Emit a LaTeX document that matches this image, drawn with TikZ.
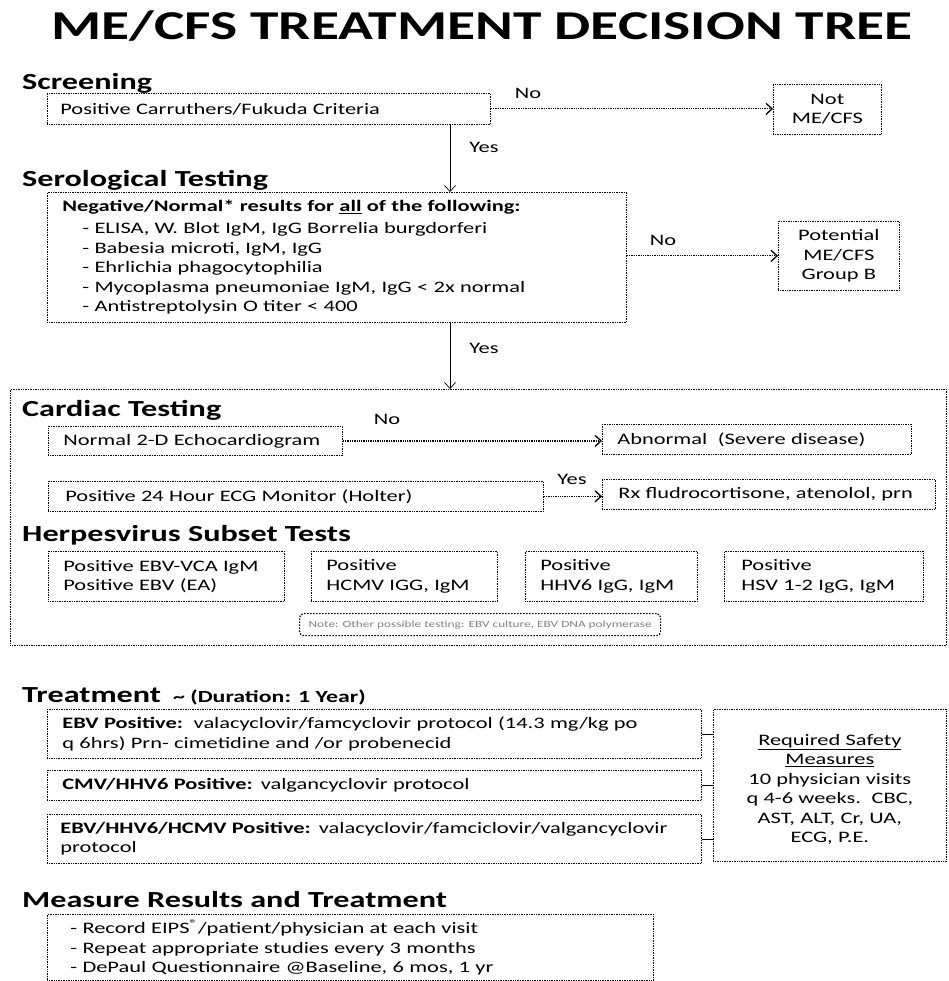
\documentclass[tikz,border=0pt]{standalone}
\usepackage{fontspec}
\setmainfont{Carlito}[FakeStretch=1.4]
\usetikzlibrary{arrows.meta,positioning}

\tikzset{
  box/.style={draw, densely dotted, line width=0.7pt, anchor=north west, inner xsep=15pt, inner ysep=0pt, align=left, font=\fontsize{16}{19.4}\selectfont},
  cbox/.style={box, align=center, inner xsep=4pt},
  notebox/.style={draw, dash pattern=on 1.5pt off 1.5pt, line width=1.2pt, rounded corners=4pt, anchor=north west, inner sep=0pt, text=gray, font=\fontsize{9.5}{11}\selectfont},
  head/.style={anchor=west, inner sep=0pt, font=\bfseries\fontsize{23}{26}\selectfont},
  lbl/.style={inner sep=1pt, font=\fontsize{16}{18}\selectfont},
  yes/.style={-{Straight Barb[length=6pt,width=11pt]}, line width=0.7pt},
  no/.style={-{Straight Barb[length=6pt,width=11pt]}, densely dotted, line width=1.3pt},
}

\begin{document}
\begin{tikzpicture}[x=1pt,y=-1pt]
\useasboundingbox (0,0) rectangle (948,981);

\node[inner sep=0pt, font=\bfseries\fontsize{41}{46}\selectfont] (title) at (482,26) {ME/CFS TREATMENT DECISION TREE};

% screening
\node[head] (hscr) at (22,83) {Screening};
\node[box, inner xsep=13pt, text width=417pt, minimum height=31pt] (scr) at (47,93) {Positive Carruthers/Fukuda Criteria};
\node[cbox, text width=100pt, minimum height=50pt] (notme) at (773,84) {Not\\ME/CFS};
\draw[no] (scr.east) -- (scr.east -| notme.west);
\node[lbl] (noa) at (528,93) {No};

% serological
\node[head] (hsero) at (22,180) {Serological Testing};
\node[box, text width=549pt, minimum height=130pt] (sero) at (47,192) {\textbf{Negative/Normal* results for \underline{all} of the following:}\\[2.6pt]
\hspace*{20pt}- ELISA, W. Blot IgM, IgG Borrelia burgdorferi\\
\hspace*{20pt}- Babesia microti, IgM, IgG\\
\hspace*{20pt}- Ehrlichia phagocytophilia\\
\hspace*{20pt}- Mycoplasma pneumoniae IgM, IgG < 2x normal\\
\hspace*{20pt}- Antistreptolysin O titer < 400};
\node[cbox, text width=113pt, minimum height=69pt] (pot) at (778,221) {Potential\\ME/CFS\\Group B};
\draw[no] (sero.east |- pot) -- (pot.west);
\node[lbl] (nob) at (663,240) {No};

\coordinate (spine) at (450,0);
\draw[yes] (scr.south -| spine) -- (sero.north -| spine);
\node[lbl] (yesa) at (484,147) {Yes};

% cardiac frame
\node[box, inner sep=0pt, minimum width=936pt, minimum height=256pt] (card) at (10,389) {};
\draw[yes] (sero.south -| spine) -- (card.north -| spine);
\node[lbl] (yesb) at (484,348) {Yes};

\node[head] (hcard) at (22,410) {Cardiac Testing};
\node[box, text width=264pt, minimum height=29pt] (echo) at (48,426) {Normal 2-D Echocardiogram};
\node[box, text width=279pt, minimum height=30pt] (abn) at (602,424) {Abnormal\ \ (Severe disease)};
\draw[no] (echo.east) -- (echo.east -| abn.west);
\node[lbl] (noc) at (387,419) {No};
\node[box, inner xsep=17pt, text width=461pt, minimum height=30pt] (holt) at (48,481) {Positive 24 Hour ECG Monitor (Holter)};
\node[box, inner xsep=16pt, text width=301pt, minimum height=30pt] (rx) at (602,479) {Rx fludrocortisone, atenolol, prn};
\draw[no] (holt.east) -- (holt.east -| rx.west);
\node[lbl] (yesc) at (572,479) {Yes};

% herpesvirus
\node[head] (hherp) at (22,535) {Herpesvirus Subset Tests};
\node[box, text width=206pt, minimum height=50pt] (ebv) at (48,551) {Positive EBV-VCA IgM\\Positive EBV (EA)};
\node[box, text width=156pt, minimum height=50pt] (hcmv) at (311,551) {Positive\\HCMV IGG, IgM};
\node[box, text width=142pt, minimum height=50pt] (hhv) at (525,551) {Positive\\HHV6 IgG, IgM};
\node[box, inner xsep=17pt, text width=165pt, minimum height=50pt] (hsv) at (724,551) {Positive\\HSV 1-2 IgG, IgM};
\node[notebox, minimum width=361pt, minimum height=22pt] (note) at (299,613) {Note: Other possible testing: EBV culture, EBV DNA polymerase};

% treatment
\node[head] (htreat) at (22,696) {Treatment\hspace{12pt}{\fontsize{17}{20}\selectfont\textasciitilde\ (Duration: 1 Year)}};
\node[box, text width=624pt, minimum height=49pt] (tebv) at (47,709) {\textbf{EBV Positive:}\ \ valacyclovir/famcyclovir protocol (14.3 mg/kg po\\q 6hrs) Prn- cimetidine and /or probenecid};
\node[box, text width=624pt, minimum height=30pt] (tcmv) at (47,770) {\textbf{CMV/HHV6 Positive:} valgancyclovir protocol};
\node[box, inner xsep=13pt, text width=628pt, minimum height=49pt] (tall) at (47,814) {\textbf{EBV/HHV6/HCMV Positive:} valacyclovir/famciclovir/valgancyclovir\\protocol};
\node[cbox, text width=225pt, minimum height=152pt] (safe) at (713,709) {\mbox{}\\\underline{Required Safety}\\\underline{Measures}\\10 physician visits\\q 4-6 weeks.\ \ CBC,\\AST, ALT, Cr, UA,\\ECG, P.E.};
\draw[line width=0.7pt] (tebv.east) -- (tebv.east -| safe.west);
\draw[line width=0.7pt] (tcmv.east) -- (tcmv.east -| safe.west);
\draw[line width=0.7pt] (tall.east) -- (tall.east -| safe.west);

% measure
\node[head] (hmeas) at (22,900) {Measure Results and Treatment};
\node[box, inner xsep=23pt, text width=560pt, minimum height=66pt] (meas) at (47,914) {- Record EIPS\textsuperscript{\textregistered}/patient/physician at each visit\\- Repeat appropriate studies every 3 months\\- DePaul Questionnaire @Baseline, 6 mos, 1 yr};
\end{tikzpicture}
\end{document}
